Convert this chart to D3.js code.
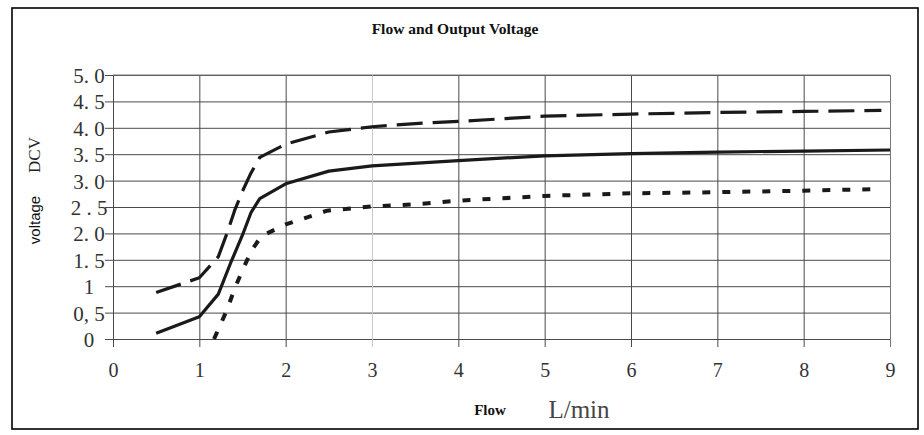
<!DOCTYPE html>
<html>
<head>
<meta charset="utf-8">
<script src="https://cdn.jsdelivr.net/npm/d3@7"></script>
<style>
  html, body { margin: 0; padding: 0; background: #fff; }
  svg { display: block; }
</style>
</head>
<body>
<svg id="chart" width="924" height="435"></svg>
<script>
// ---- data ----
const xTicks = [0, 1, 2, 3, 4, 5, 6, 7, 8, 9];
const yTicks = [0, 0.5, 1, 1.5, 2, 2.5, 3, 3.5, 4, 4.5, 5];
const yTickLabels = ["0", "0, 5", "1", "1. 5", "2. 0", "2 . 5", "3. 0", "3. 5", "4. 0", "4. 5", "5. 0"];

const upperFlow = [0.5, 1.0, 1.22, 1.32, 1.41, 1.5, 1.6, 1.7, 2.0, 2.5, 3.0, 3.5, 4.0, 5.0, 6.0, 7.0, 8.0, 8.9];
const upperVolt = [0.88, 1.16, 1.56, 2.0, 2.44, 2.8, 3.15, 3.44, 3.69, 3.92, 4.02, 4.08, 4.12, 4.22, 4.26, 4.29, 4.31, 4.33];

const middleFlow = [0.5, 1.0, 1.22, 1.36, 1.5, 1.6, 1.7, 2.0, 2.5, 3.0, 4.0, 5.0, 6.0, 7.0, 8.0, 9.0];
const middleVolt = [0.11, 0.42, 0.85, 1.43, 1.97, 2.4, 2.66, 2.94, 3.18, 3.28, 3.38, 3.47, 3.51, 3.54, 3.56, 3.58];

const lowerFlow = [1.17, 1.32, 1.41, 1.51, 1.61, 1.72, 2.0, 2.48, 3.0, 3.5, 4.0, 4.68, 5.0, 6.0, 7.0, 8.0, 8.9];
const lowerVolt = [0.0, 0.55, 0.96, 1.34, 1.69, 1.95, 2.17, 2.43, 2.51, 2.55, 2.62, 2.68, 2.71, 2.76, 2.78, 2.81, 2.84];

const titleText = "Flow and Output Voltage";
const xTitle = "Flow";
const xUnit = "L/min";
const yTitle = "voltage";
const yUnit = "DCV";

// ---- layout ----
const serif = "'Liberation Serif', 'DejaVu Serif', serif";
const svg = d3.select("#chart");
const plot = { left: 113, right: 890, top: 75, bottom: 339 };
const x = d3.scaleLinear().domain([0, 9]).range([plot.left, plot.right]);
const y = d3.scaleLinear().domain([0, 5]).range([plot.bottom, plot.top]);

// outer frame
svg.append("rect")
  .attr("x", 12).attr("y", 8).attr("width", 906).attr("height", 421)
  .attr("fill", "none").attr("stroke", "#000").attr("stroke-width", 1.6);

// title
svg.append("text")
  .attr("x", 455).attr("y", 34)
  .attr("text-anchor", "middle")
  .style("font-family", serif)
  .style("font-weight", "bold")
  .style("font-size", "15.5px")
  .attr("fill", "#111")
  .text(titleText);

// horizontal grid + y axis labels
const yAxis = d3.axisLeft(y).tickValues(yTicks)
  .tickFormat((d, i) => yTickLabels[i]).tickSizeOuter(0);
const gy = svg.append("g").attr("transform", `translate(${plot.left},0)`).call(yAxis);
gy.select(".domain").remove();
gy.selectAll(".tick line")
  .attr("x1", -8).attr("x2", plot.right - plot.left)
  .attr("stroke", "#4a4a4a").attr("stroke-width", 1);
gy.selectAll(".tick text")
  .attr("x", -24).attr("dy", "0.36em")
  .attr("text-anchor", "middle")
  .style("font-family", serif)
  .style("font-size", "21px")
  .attr("fill", "#333");

// vertical grid + x axis labels
const xAxis = d3.axisBottom(x).tickValues(xTicks).tickFormat(d => String(d)).tickSizeOuter(0);
const gx = svg.append("g").attr("transform", `translate(0,${plot.bottom})`).call(xAxis);
gx.select(".domain").remove();
gx.selectAll(".tick line")
  .attr("y1", 8)
  .attr("y2", -(plot.bottom - plot.top))
  .attr("stroke", d => d === 3 ? "#c8c8c8" : (d === 9 ? "#777" : "#4a4a4a"))
  .attr("stroke-width", 1);
gx.selectAll(".tick text")
  .attr("y", 38).attr("dy", "0")
  .style("font-family", serif)
  .style("font-size", "20px")
  .attr("fill", "#333");

// top border of plot
svg.append("line")
  .attr("x1", plot.left).attr("x2", plot.right)
  .attr("y1", plot.top).attr("y2", plot.top)
  .attr("stroke", "#777").attr("stroke-width", 1);

// axis titles
svg.append("text")
  .attr("x", 490).attr("y", 415)
  .attr("text-anchor", "middle")
  .style("font-family", serif)
  .style("font-weight", "bold")
  .style("font-size", "15px")
  .attr("fill", "#111")
  .text(xTitle);
svg.append("text")
  .attr("x", 579).attr("y", 418)
  .attr("text-anchor", "middle")
  .style("font-family", serif)
  .style("font-size", "25px")
  .attr("fill", "#444")
  .text(xUnit);

svg.append("text")
  .attr("transform", "translate(40,220) rotate(-90)")
  .attr("text-anchor", "middle")
  .style("font-family", "'Liberation Sans', Arial, sans-serif")
  .style("font-size", "15px")
  .attr("fill", "#111")
  .text(yTitle);
svg.append("text")
  .attr("transform", "translate(40,155) rotate(-90)")
  .attr("text-anchor", "middle")
  .style("font-family", serif)
  .style("font-size", "17px")
  .attr("fill", "#222")
  .text(yUnit);

// series
const line = d3.line().x(d => x(d[0])).y(d => y(d[1]));
const series = [
  { flow: upperFlow, volt: upperVolt, width: 3.2, dash: "26,10" },
  { flow: middleFlow, volt: middleVolt, width: 3.2, dash: null },
  { flow: lowerFlow, volt: lowerVolt, width: 4, dash: "8,12" }
];
series.forEach(s => {
  const pts = s.flow.map((f, i) => [f, s.volt[i]]);
  svg.append("path")
    .attr("d", line(pts))
    .attr("fill", "none")
    .attr("stroke", "#1a1a1a")
    .attr("stroke-width", s.width)
    .attr("stroke-dasharray", s.dash)
    .attr("stroke-linejoin", "round");
});
</script>
</body>
</html>
